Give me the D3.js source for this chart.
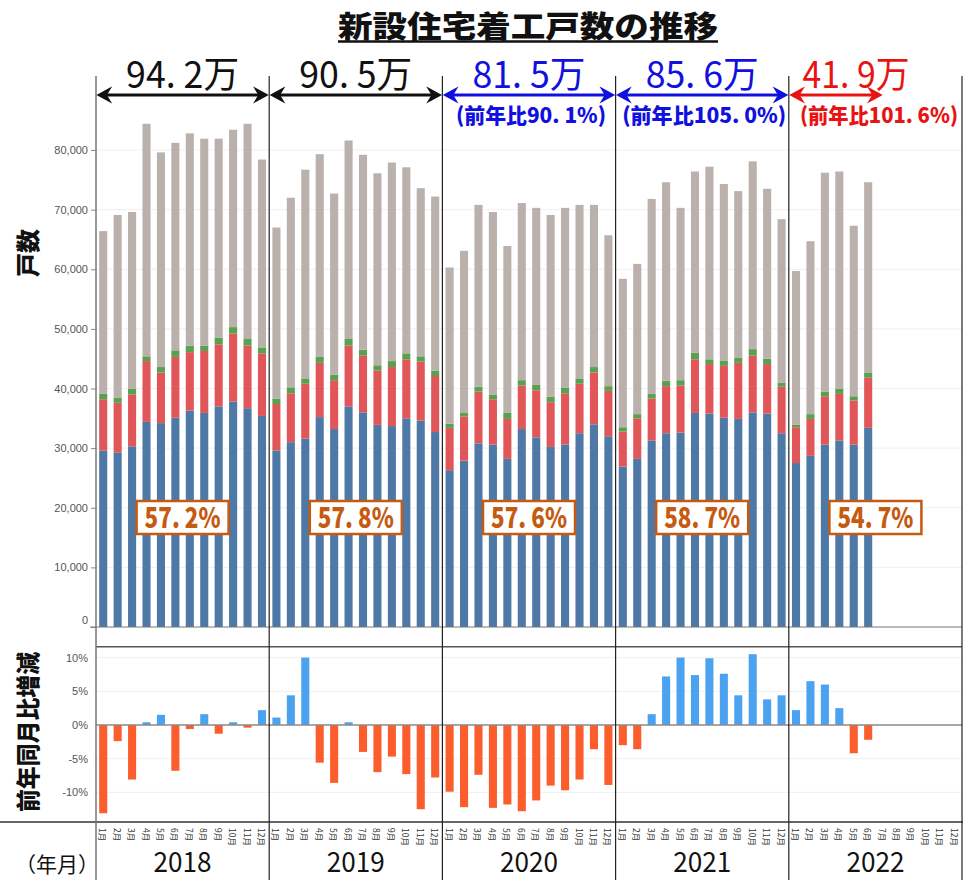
<!DOCTYPE html>
<html><head><meta charset="utf-8">
<script src="https://cdn.jsdelivr.net/npm/d3@7"></script>
<style>body{margin:0;background:#fff}svg{display:block}</style>
</head><body>
<script>
// ---- data ----
const years = ["2018","2019","2020","2021","2022"];
const monthLabels = ["1月","2月","3月","4月","5月","6月","7月","8月","9月","10月","11月","12月"];
// stacked series (bottom -> top), per month, 2018-01 .. 2022-06
const seriesA = [29600,29300,30300,34400,34200,35100,36300,35900,37000,37800,36700,35400,
  29600,31000,31600,35200,33200,37000,36000,33900,33700,35000,34600,32700,
  26300,27900,30800,30600,28200,33200,31800,30200,30600,32500,34000,32000,
  26900,28200,31300,32500,32600,35900,35800,35100,34900,36000,35800,32500,
  27500,28700,30600,31300,30600,33400];
const seriesB = [8600,8300,8700,10200,8500,10200,9800,10400,10400,11400,10500,10500,
  7800,8200,9200,9100,8200,10200,9500,9100,9900,9900,9900,9400,
  7100,7400,8700,7600,6700,7300,7900,7500,8600,8300,8700,7600,
  5900,6800,7000,7900,7900,9000,8300,8700,9400,9500,8300,7800,
  6000,6200,8100,7800,7400,8400];
const seriesC = [900,900,1000,800,900,1100,1100,900,1100,1100,1100,1000,
  900,1000,900,1000,900,1100,1000,900,1000,1000,900,900,
  700,600,800,800,1000,900,900,900,900,800,900,800,
  700,700,800,900,900,1100,800,900,900,1100,900,700,
  400,800,800,900,700,800];
const seriesD = [27300,30600,29600,39000,36000,34800,35600,34700,33400,33100,36100,31500,
  28700,31800,35000,34000,30400,33300,32700,32200,33300,31200,28200,29200,
  26200,27200,30500,30600,28000,29700,29700,30500,30200,29200,27200,25300,
  24900,25200,32700,33300,28900,30400,32300,29600,27900,31500,28500,27400,
  25800,29000,36700,36400,28600,32000];
// year-over-year change (%)
const yoyChange = [-13.1,-2.4,-8.1,0.4,1.5,-6.8,-0.6,1.6,-1.3,0.4,-0.4,2.2,
  1.1,4.4,10.0,-5.6,-8.6,0.4,-4.0,-7.0,-4.7,-7.3,-12.5,-7.8,
  -9.9,-12.2,-7.4,-12.3,-11.8,-12.8,-11.2,-9.0,-9.7,-8.1,-3.6,-8.9,
  -3.0,-3.6,1.6,7.2,10.0,7.4,9.9,7.6,4.4,10.5,3.8,4.4,
  2.2,6.5,6.0,2.5,-4.2,-2.2];
const yTicksMain = [0,10000,20000,30000,40000,50000,60000,70000,80000];
const yTicksLower = [-10,-5,0,5,10];
const yearTotals = ["94.\u00A02万","90.\u00A05万","81.\u00A05万","85.\u00A06万","41.\u00A09万"];
const yearCompare = ["","","(前年比90.\u00A01%)","(前年比105.\u00A00%)","(前年比101.\u00A06%)"];
const shareLabels = ["57.\u00A02%","57.\u00A08%","57.\u00A06%","58.\u00A07%","54.\u00A07%"];

// ---- layout ----
const W = 963, H = 880;
const colors = ["#4e79a7","#e15759","#59a14f","#bab0ac"];
const annColors = ["#111","#111","#1010e0","#1010e0","#e81414"];
const svg = d3.select("body").append("svg").attr("width",W).attr("height",H)
  .style("font-family","'Noto Sans CJK JP','Noto Sans',sans-serif");

const keys = [];
years.forEach(y => monthLabels.forEach(m => keys.push(y+"-"+m)));
const x = d3.scaleBand().domain(keys).range([96,962]).paddingInner(0.44).paddingOuter(0.22);
const step = x.step();
const yearStart = i => 96 + i*12*step;
const yearCenter = i => 96 + (i*12+6)*step;

const y = d3.scaleLinear().domain([0,90000]).range([627,90.4]);
const y2 = d3.scaleLinear().domain([-14.4,11.6]).range([822,646.8]);

// gridlines
svg.append("g").selectAll("line").data(yTicksMain.slice(1)).join("line")
  .attr("x1",96).attr("x2",962).attr("y1",d=>y(d)).attr("y2",d=>y(d))
  .attr("stroke","#efefef").attr("stroke-width",1);
svg.append("g").selectAll("line").data(yTicksLower.filter(d=>d!==0)).join("line")
  .attr("x1",96).attr("x2",962).attr("y1",d=>y2(d)).attr("y2",d=>y2(d))
  .attr("stroke","#f0f0f0").attr("stroke-width",1);

// stacked bars
const rows = seriesA.map((a,i)=>({key:keys[i],a,b:seriesB[i],c:seriesC[i],d:seriesD[i]}));
const stack = d3.stack().keys(["a","b","c","d"])(rows);
svg.append("g").selectAll("g").data(stack).join("g").attr("fill",(d,i)=>colors[i])
  .selectAll("rect").data(d=>d).join("rect")
  .attr("x",d=>x(d.data.key)).attr("width",x.bandwidth())
  .attr("y",d=>y(d[1])).attr("height",d=>y(d[0])-y(d[1]));

// main y axis
const gy = svg.append("g").attr("transform","translate(96,0)")
  .call(d3.axisLeft(y).tickValues(yTicksMain).tickFormat(d3.format(",")).tickSize(5).tickPadding(3));
gy.select(".domain").remove();
gy.selectAll("line").attr("stroke","#888");
gy.selectAll("text").attr("fill","#555").style("font-family","'Liberation Sans',Arial,sans-serif").style("font-size","11px");
gy.selectAll(".tick").filter(d=>d===0).select("text").attr("dy","-0.3em");
svg.append("line").attr("x1",90).attr("x2",962).attr("y1",y(0)).attr("y2",y(0)).attr("stroke","#777").attr("stroke-width",1);

// lower chart
svg.append("g").selectAll("rect").data(yoyChange).join("rect")
  .attr("x",(d,i)=>x(keys[i])).attr("width",x.bandwidth())
  .attr("y",d=>y2(Math.max(0,d))).attr("height",d=>Math.abs(y2(d)-y2(0)))
  .attr("fill",d=>d>=0?"#4ba3f0":"#fb5e2c");
svg.append("line").attr("x1",96).attr("x2",962).attr("y1",y2(0)).attr("y2",y2(0)).attr("stroke","#8a8a8a").attr("stroke-width",1.5);
const gy2 = svg.append("g").attr("transform","translate(96,0)")
  .call(d3.axisLeft(y2).tickValues(yTicksLower).tickFormat(d=>d+"%").tickSize(0).tickPadding(8));
gy2.select(".domain").remove();
gy2.selectAll("text").attr("fill","#555").style("font-family","'Liberation Sans',Arial,sans-serif").style("font-size","11px");
svg.append("line").attr("x1",96).attr("x2",962).attr("y1",y2.range()[1]).attr("y2",y2.range()[1]).attr("stroke","#555").attr("stroke-width",1.5);
svg.append("line").attr("x1",0).attr("x2",W).attr("y1",822).attr("y2",822).attr("stroke","#333").attr("stroke-width",1.5);

// vertical dividers
const divs = d3.range(6).map(i=>yearStart(i));
svg.append("g").selectAll("line").data(divs).join("line")
  .attr("x1",d=>d).attr("x2",d=>d).attr("y1",76).attr("y2",H)
  .attr("stroke",(d,i)=>i===0?"#777":"#222").attr("stroke-width",(d,i)=>i===0?1.5:1.2);

// month labels
svg.append("g").selectAll("text").data(keys).join("text")
  .attr("transform",d=>`translate(${x(d)+x.bandwidth()/2},828) rotate(90)`)
  .attr("dominant-baseline","central").attr("font-size",8.5).attr("fill","#333")
  .text(d=>d.split("-")[1]);
// year labels
svg.append("g").selectAll("text").data(years).join("text")
  .attr("x",(d,i)=>yearCenter(i)).attr("y",872).attr("text-anchor","middle")
  .attr("font-size",28).attr("fill","#111").attr("textLength",58).attr("lengthAdjust","spacingAndGlyphs")
  .text(d=>d);
svg.append("text").attr("x",57).attr("y",872).attr("text-anchor","middle").attr("font-size",21).attr("fill","#111").text("（年月）");

// axis titles
svg.append("text").attr("transform","translate(37,253) rotate(-90)").attr("text-anchor","middle")
  .attr("font-size",24).attr("font-weight",900).attr("fill","#111").text("戸数");
svg.append("text").attr("transform","translate(37,732) rotate(-90)").attr("text-anchor","middle")
  .attr("font-size",24).attr("font-weight",900).attr("fill","#111").attr("textLength",160).attr("lengthAdjust","spacingAndGlyphs").text("前年同月比増減");

// share boxes
const sb = svg.append("g").selectAll("g").data(shareLabels).join("g")
  .attr("transform",(d,i)=>`translate(${yearCenter(i)},0)`);
sb.append("rect").attr("x",-46).attr("y",501).attr("width",92).attr("height",33)
  .attr("fill","#fff").attr("stroke","#c55a11").attr("stroke-width",2.5);
sb.append("text").attr("y",528).attr("text-anchor","middle").attr("font-size",28).attr("font-weight",900)
  .attr("fill","#c55a11").attr("textLength",76).attr("lengthAdjust","spacingAndGlyphs").text(d=>d);

// title
svg.append("text").attr("x",528).attr("y",37).attr("text-anchor","middle").attr("font-size",30).attr("font-weight",900)
  .attr("fill","#111").attr("textLength",380).attr("lengthAdjust","spacingAndGlyphs").text("新設住宅着工戸数の推移");
svg.append("line").attr("x1",338).attr("x2",718).attr("y1",41.5).attr("y2",41.5).attr("stroke","#111").attr("stroke-width",2.5);

// year totals, arrows, comparisons
const monthsInYear = years.map((yy,i)=> Math.min(12, seriesA.length - i*12));
const ann = svg.append("g");
years.forEach((yy,i)=>{
  const c = annColors[i];
  const full = monthsInYear[i] === 12;
  const x0 = yearStart(i)+2;
  const x1 = full ? yearStart(i+1)-2 : yearStart(i) + (monthsInYear[i]+0.4)*step;
  const tc = full ? yearCenter(i) : (x0+x1)/2 + 20;
  ann.append("text").attr("x",tc).attr("y",88).attr("text-anchor","middle").attr("font-size",37)
    .attr("fill",c).attr("textLength",full?113:107).attr("lengthAdjust","spacingAndGlyphs").text(yearTotals[i]);
  const ay = 95, hw = 12, hh = 6.5;
  ann.append("line").attr("x1",x0+2).attr("x2",x1-2).attr("y1",ay).attr("y2",ay).attr("stroke",c).attr("stroke-width",3);
  ann.append("path").attr("d",`M${x0+hw},${ay-hh} L${x0},${ay} L${x0+hw},${ay+hh} L${x0+hw-4},${ay} Z`).attr("fill",c).attr("stroke",c).attr("stroke-width",1.5).attr("stroke-linejoin","miter");
  ann.append("path").attr("d",`M${x1-hw},${ay-hh} L${x1},${ay} L${x1-hw},${ay+hh} L${x1-hw+4},${ay} Z`).attr("fill",c).attr("stroke",c).attr("stroke-width",1.5);
  if (yearCompare[i]) {
    const len = i===2?150:(i===3?164:158);
    const cx = i===4 ? 879 : yearCenter(i) + 2;
    ann.append("text").attr("x",cx).attr("y",123).attr("text-anchor","middle").attr("font-size",21).attr("font-weight",900)
      .attr("fill",c).attr("textLength",len).attr("lengthAdjust","spacingAndGlyphs").text(yearCompare[i]);
  }
});
</script>
</body></html>
